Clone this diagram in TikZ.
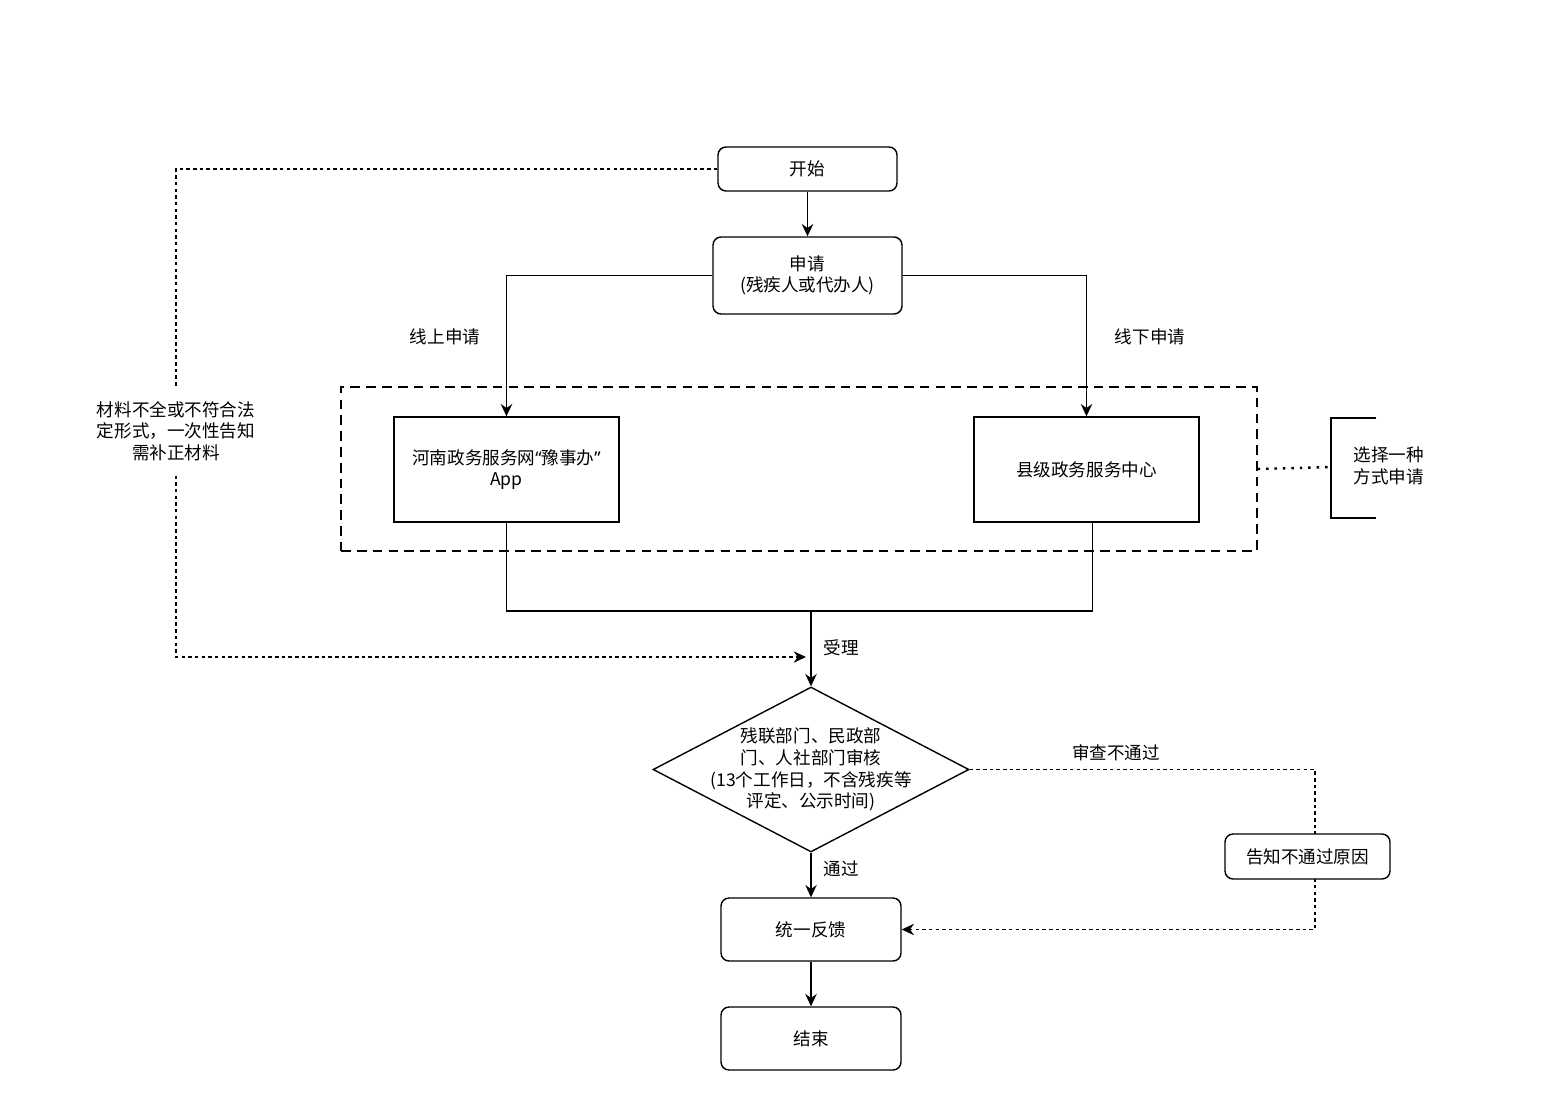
\documentclass[tikz,border=0pt]{standalone}
\usepackage{fontspec}
\setmainfont{Noto Sans CJK SC}
\newfontfamily\quotefont{Noto Sans}
\usetikzlibrary{shapes.geometric,arrows.meta}

\begin{document}
\begin{tikzpicture}[>={Stealth[length=7pt,width=6.5pt]}, x=0.02cm, y=-0.02cm, thick,
  font=\fontsize{10}{12.3}\selectfont,
  term/.style={draw, rounded corners=0.16cm, align=center, inner sep=0},
  office/.style={draw, align=center, inner sep=0, minimum width=4.5cm, minimum height=2.1cm},
  lbl/.style={inner sep=1pt, align=center},
  backline/.style={dash pattern=on 2pt off 1.8pt, semithick}]
\useasboundingbox (0,0) rectangle (1566,1102);

\node[term, minimum width=3.58cm, minimum height=0.88cm] (start) at (807.5,169) {开始};
\node[term, minimum width=3.78cm, minimum height=1.54cm] (apply) at (807.5,275.5) {申请\\(残疾人或代办人)};

\node[draw, dash pattern=on 5.5pt off 3.5pt, inner sep=0, minimum width=18.32cm, minimum height=3.28cm] (mode) at (799,469) {};
\node[office] (web) at (506.5,469.5) {河南政务服务网{\quotefont “}豫事办{\quotefont ”}\\App};
\node[office] (county) at (1086.5,469.5) {县级政务服务中心};

\coordinate (brk) at (1331,467);
\draw[line width=1.4pt, dash pattern=on 1.4pt off 3.4pt] (mode.east) -- (brk);
\draw (1376,418) -| (1331,518) -- (1376,518);
\node[lbl, anchor=west, align=left] (choice) at (1351,466) {选择一种\\方式申请};

\node[draw, diamond, inner sep=0, minimum width=6.32cm, minimum height=3.3cm] (review) at (811,769.5) {};
\node[lbl] at (review) {残联部门、民政部\\门、人社部门审核\\(13个工作日，不含残疾等\\评定、公示时间)};

\node[term, minimum width=3.6cm, minimum height=1.26cm] (reply) at (811,929.5) {统一反馈};
\node[term, minimum width=3.6cm, minimum height=1.26cm] (finish) at (811,1038.5) {结束};

\draw[->] (start) -- (apply);
\draw[->] (apply.west) -| (web.north);
\draw[->] (apply.east) -| (county.north);
\node[lbl] at (445,337) {线上申请};
\node[lbl] at (1150,337) {线下申请};

\coordinate (merge) at (811,611);
\draw (web.south) |- (merge) -| ([xshift=3.5]county.south);
\draw[->] (merge) -- (review.north);
\node[lbl] at (841,648) {受理};

\coordinate (corner) at (176,657);
\coordinate (acc) at (806,657);
\draw[backline, ->] (start.west) -| (corner) -- (acc);
\node[fill=white, inner xsep=2pt, inner ysep=7pt, align=center] (missing) at (176,431) {材料不全或不符合法\\定形式，一次性告知\\需补正材料};

\draw[->] (review.south) -- (reply.north);
\node[lbl] at (841,869) {通过};
\draw[->] (reply) -- (finish);

\coordinate (turn) at (1315,769.5);
\draw[backline, ->] (review.east) -- (turn) |- (reply.east);
\node[lbl] at (1116,753) {审查不通过};
\node[term, fill=white, minimum width=3.3cm, minimum height=0.9cm] (reason) at (1307.5,856.5) {告知不通过原因};
\end{tikzpicture}
\end{document}
